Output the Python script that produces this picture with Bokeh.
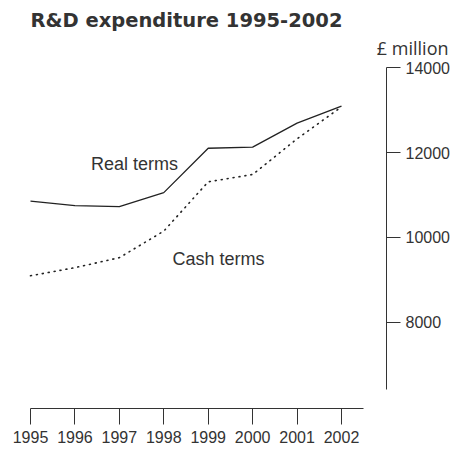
from bokeh.plotting import figure
from bokeh.models import Range1d, LinearAxis, FixedTicker, Title, Label
from bokeh.embed import file_html
from bokeh.resources import INLINE

years = [1995, 1996, 1997, 1998, 1999, 2000, 2001, 2002]
real_terms = [10854, 10750, 10725, 11055, 12100, 12125, 12690, 13090]
cash_terms = [9100, 9290, 9525, 10150, 11310, 11482, 12322, 13075]
y_ticks = [8000, 10000, 12000, 14000]

LABEL_FONT = "Liberation Sans"
UNIT_FONT = "Open Sans"
TITLE_FONT = "DejaVu Sans"
INK = "#333333"

p = figure(width=466, height=448, output_backend="svg", toolbar_location=None,
           x_range=Range1d(1994.775, 2003.013), y_range=Range1d(5976, 14165),
           x_axis_location=None, y_axis_location=None,
           min_border_left=20, min_border_right=80, min_border_top=60, min_border_bottom=40)
p.outline_line_color = None
p.grid.visible = False
p.background_fill_color = "white"
p.border_fill_color = "white"

p.line(years, real_terms, line_color="#222222", line_width=1.3)
p.line(years, cash_terms, line_color="#222222", line_width=1.6, line_dash="1 5", line_cap="round")

xa = LinearAxis(ticker=FixedTicker(ticks=years), bounds=(1995, 2002.5))
xa.major_tick_out = 16
xa.major_tick_in = 0
xa.minor_tick_line_color = None
xa.axis_line_color = "#333333"
xa.major_tick_line_color = "#333333"
xa.major_label_text_font = LABEL_FONT
xa.major_label_text_font_size = "16px"
xa.major_label_text_color = INK
xa.major_label_standoff = 6
p.add_layout(xa, "below")

ya = LinearAxis(ticker=FixedTicker(ticks=y_ticks), bounds=(6424, 14000))
ya.major_tick_out = 14
ya.major_tick_in = 0
ya.minor_tick_line_color = None
ya.axis_line_color = "#333333"
ya.major_tick_line_color = "#333333"
ya.major_label_text_font = LABEL_FONT
ya.major_label_text_font_size = "16px"
ya.major_label_text_color = INK
ya.major_label_standoff = 5
p.add_layout(ya, "right")

p.add_layout(Title(text="£ million", align="right", offset=-62, standoff=2, text_font=UNIT_FONT,
                   text_font_size="18px", text_font_style="normal", text_color=INK), "above")
p.add_layout(Title(text="R&D expenditure 1995-2002", align="left", offset=10, standoff=2,
                   text_font=TITLE_FONT, text_font_size="19.5px", text_font_style="bold",
                   text_color=INK), "above")

p.add_layout(Label(x=1997.34, y=11718, text="Real terms", text_align="center",
                   text_baseline="middle", text_font=LABEL_FONT, text_font_size="18px",
                   text_color=INK))
p.add_layout(Label(x=1999.23, y=9490, text="Cash terms", text_align="center",
                   text_baseline="middle", text_font=LABEL_FONT, text_font_size="18px",
                   text_color=INK))

open("out.html", "w").write(file_html(p, INLINE))
